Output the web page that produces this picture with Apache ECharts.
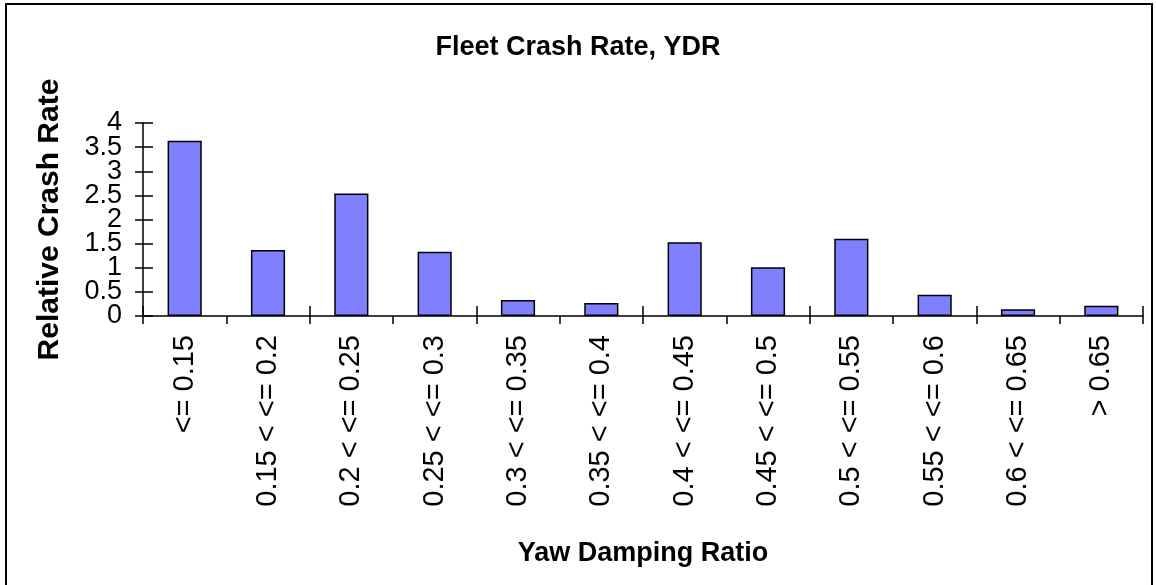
<!DOCTYPE html>
<html>
<head>
<meta charset="utf-8">
<script src="https://cdn.jsdelivr.net/npm/echarts@6/dist/echarts.min.js"></script>
<style>
  html, body { margin: 0; padding: 0; background: #fff; }
  #chart { width: 1156px; height: 585px; }
</style>
</head>
<body>
<div id="chart"></div>
<script>
var ydr_bins = ["<= 0.15", "0.15 < <= 0.2", "0.2 < <= 0.25", "0.25 < <= 0.3", "0.3 < <= 0.35", "0.35 < <= 0.4",
                "0.4 < <= 0.45", "0.45 < <= 0.5", "0.5 < <= 0.55", "0.55 < <= 0.6", "0.6 < <= 0.65", "> 0.65"];
var crash_rate = [3.63, 1.37, 2.54, 1.33, 0.33, 0.27, 1.53, 1.01, 1.60, 0.44, 0.14, 0.21];
var y_whole = [0, 1, 2, 3, 4];
var y_half = [0.5, 1.5, 2.5, 3.5];

var font = "Arial, 'Liberation Sans', sans-serif";
var chart = echarts.init(document.getElementById("chart"));

// the tick labels overlap each other in the original, so whole and half
// values go on two copies of the axis to stop echarts hiding any of them
function ylabel(list) {
    return { margin: 21, fontFamily: font, fontSize: 27, color: "#000",
             showMinLabel: true, showMaxLabel: true, hideOverlap: false,
             formatter: function (v) { return list.indexOf(v) >= 0 ? String(v) : ""; } };
}

var option = {
    animation: false,
    backgroundColor: "#fff",
    title: {
        text: "Fleet Crash Rate, YDR",
        left: "center",
        top: 29,
        textStyle: { fontFamily: font, fontSize: 27, fontWeight: "bold", color: "#000" }
    },
    graphic: [{
        type: "rect",
        shape: { x: 6, y: 4, width: 1146, height: 590 },
        style: { fill: null, stroke: "#000", lineWidth: 2 },
        silent: true
    }],
    grid: { left: 143, right: 13, top: 123, bottom: 269, containLabel: false },
    xAxis: [{
        type: "category",
        data: ydr_bins,
        name: "Yaw Damping Ratio",
        nameLocation: "middle",
        nameGap: 224,
        nameTextStyle: { fontFamily: font, fontSize: 27, fontWeight: "bold", color: "#000" },
        axisLine: { lineStyle: { color: "#000", width: 1.5 } },
        axisTick: { show: true, length: 8, lineStyle: { color: "#000", width: 1.5 } },
        axisLabel: { rotate: 90, margin: 19, interval: 0, fontFamily: font, fontSize: 29, color: "#000" },
        splitLine: { show: false }
    }, {
        // copy of the axis only to draw the inner half of the crossing ticks
        type: "category",
        data: ydr_bins,
        position: "bottom",
        axisLine: { show: false },
        axisTick: { show: true, inside: true, length: 10, lineStyle: { color: "#000", width: 1.5 } },
        axisLabel: { show: false },
        splitLine: { show: false }
    }],
    yAxis: [{
        type: "value",
        min: 0,
        max: 4,
        interval: 0.5,
        name: "Relative Crash Rate",
        nameLocation: "middle",
        nameRotate: 90,
        nameGap: 78,
        nameTextStyle: { fontFamily: font, fontSize: 30, fontWeight: "bold", color: "#000" },
        axisLine: { show: true, lineStyle: { color: "#000", width: 1.5 } },
        axisTick: { show: true, length: 8, lineStyle: { color: "#000", width: 1.5 } },
        axisLabel: ylabel(y_whole),
        splitLine: { show: false }
    }, {
        type: "value",
        min: 0,
        max: 4,
        interval: 0.5,
        position: "left",
        axisLine: { show: false },
        axisTick: { show: true, inside: true, length: 10, lineStyle: { color: "#000", width: 1.5 } },
        axisLabel: ylabel(y_half),
        splitLine: { show: false }
    }],
    series: [{
        type: "bar",
        xAxisIndex: 0,
        yAxisIndex: 0,
        data: crash_rate,
        barWidth: "41%",
        itemStyle: { color: "#8080ff", borderColor: "#000", borderWidth: 1.5 }
    }]
};
chart.setOption(option);
</script>
</body>
</html>
